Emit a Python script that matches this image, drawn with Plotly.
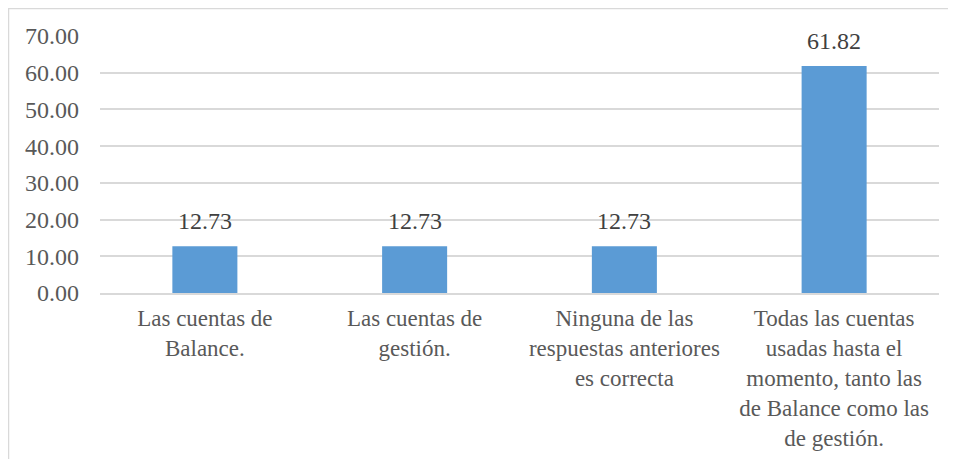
import plotly.graph_objects as go

categories = [
    "Las cuentas de<br>Balance.",
    "Las cuentas de<br>gestión.",
    "Ninguna de las<br>respuestas anteriores<br>es correcta",
    "Todas las cuentas<br>usadas hasta el<br>momento, tanto las<br>de Balance como las<br>de gestión.",
]
values = [12.73, 12.73, 12.73, 61.82]
tick_vals = [0, 10, 20, 30, 40, 50, 60, 70]
tick_text = ["0.00", "10.00", "20.00", "30.00", "40.00", "50.00", "60.00", "70.00"]

FONT = "Liberation Serif, Times New Roman, serif"
GRAY = "#595959"

fig = go.Figure(
    go.Bar(
        x=categories,
        y=values,
        marker=dict(color="#5B9BD5", line=dict(width=0)),
        width=0.31,
        hoverinfo="x+y",
    )
)

for c, v in zip(categories, values):
    fig.add_annotation(
        x=c, y=v, text=f"{v:.2f}", showarrow=False,
        xanchor="center", yanchor="bottom", yshift=10,
        font=dict(family=FONT, size=24, color="#404040"),
    )

L, R, T, B = 92, 25, 28, 174
fig.update_layout(
    width=956,
    height=459,
    margin=dict(l=L, r=R, t=T, b=B),
    paper_bgcolor="white",
    plot_bgcolor="white",
    showlegend=False,
    font=dict(family=FONT, size=23, color=GRAY),
    xaxis=dict(
        showgrid=False,
        showline=True,
        linecolor="#d9d9d9",
        linewidth=1.5,
        ticks="",
        ticklabelstandoff=4,
        tickfont=dict(family=FONT, size=23, color=GRAY),
    ),
    yaxis=dict(
        range=[0, 70],
        tickvals=tick_vals,
        ticktext=tick_text,
        showgrid=True,
        gridcolor="#d9d9d9",
        gridwidth=1.5,
        zeroline=False,
        showline=False,
        ticks="",
        ticklabelstandoff=20,
        tickfont=dict(family=FONT, size=24, color=GRAY),
    ),
)

pw = 956 - L - R
ph = 459 - T - B
fig.add_shape(
    type="rect",
    xref="paper",
    yref="paper",
    x0=(0.5 - L) / pw,
    x1=(1100 - L) / pw,
    y0=-(600 - (459 - B)) / ph,
    y1=((459 - B) - 0.5) / ph,
    line=dict(color="#d9d9d9", width=1.5),
    fillcolor="rgba(0,0,0,0)",
    layer="below",
)

fig.write_html("out.html")
